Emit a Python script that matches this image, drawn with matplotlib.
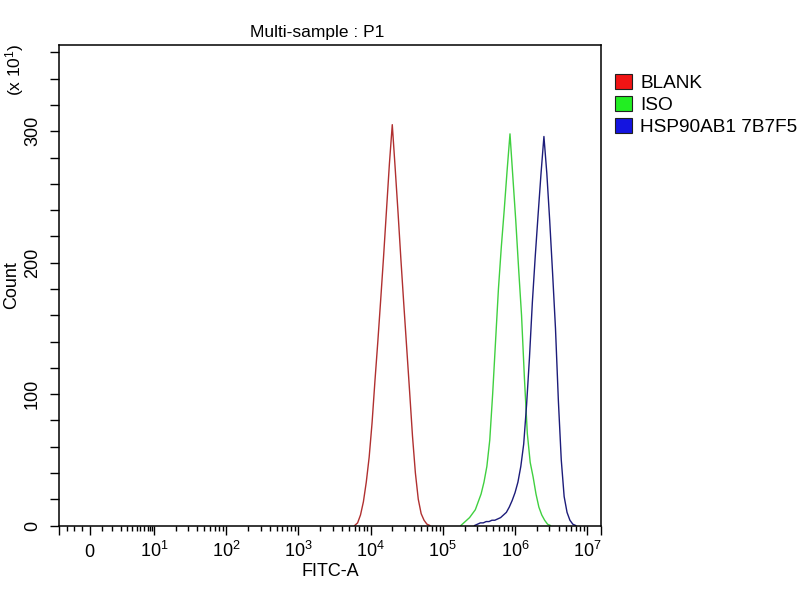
import matplotlib
matplotlib.use("Agg")
import matplotlib.pyplot as plt
from matplotlib.patches import Patch
import numpy as np

plt.rcParams['font.family'] = ['Liberation Sans', 'DejaVu Sans']
plt.rcParams['mathtext.fontset'] = 'custom'
plt.rcParams['mathtext.rm'] = 'Liberation Sans'
plt.rcParams['mathtext.it'] = 'Liberation Sans:italic'

# ---- data (bin centres as log10(FITC-A), counts in units of x10^1) ----
blank_log = [3.78, 3.82, 3.86, 3.90, 3.94, 3.98, 4.02, 4.06, 4.10, 4.14, 4.18, 4.22, 4.26,
             4.30, 4.34, 4.38, 4.42, 4.46, 4.50, 4.54, 4.58, 4.62, 4.66, 4.70, 4.74, 4.78, 4.82]
blank_cnt = [0, 2, 8, 18, 33, 52, 78, 110, 140, 172, 205, 240, 275,
             305, 272, 238, 202, 168, 135, 102, 68, 40, 20, 9, 4, 1, 0]

iso_log = [5.25, 5.29, 5.33, 5.37, 5.41, 5.45, 5.49, 5.53, 5.57, 5.61, 5.65, 5.69, 5.73,
           5.77, 5.81, 5.85, 5.89, 5.93, 5.97, 6.01, 6.05, 6.09, 6.13, 6.17, 6.21, 6.25,
           6.29, 6.33, 6.37, 6.41, 6.45, 6.49]
iso_cnt = [0, 2, 4, 6, 9, 12, 18, 24, 33, 45, 65, 100, 140, 180, 212, 240, 270,
           298, 265, 232, 195, 160, 112, 70, 48, 37, 24, 14, 8, 4, 1, 0]

hsp_log = [5.44, 5.48, 5.52, 5.56, 5.60, 5.64, 5.68, 5.72, 5.76, 5.80, 5.84, 5.88, 5.92,
           5.96, 6.00, 6.04, 6.08, 6.12, 6.16, 6.20, 6.24, 6.28, 6.32, 6.36, 6.40, 6.44,
           6.48, 6.52, 6.56, 6.60, 6.64, 6.68, 6.72, 6.76, 6.80, 6.84]
hsp_cnt = [0, 1, 2, 2, 3, 3, 4, 4, 5, 6, 8, 10, 14, 19, 25, 33, 45, 62, 92, 128, 170,
           205, 237, 268, 296, 268, 232, 192, 150, 95, 50, 22, 10, 4, 1, 0]

series_names = ['BLANK', 'ISO', 'HSP90AB1 7B7F5']
line_colors = ['#b03030', '#40d040', '#1c1c7a']
legend_colors = ['#f01414', '#22ee22', '#1414e0']

x_major = [0, 1e1, 1e2, 1e3, 1e4, 1e5, 1e6, 1e7]
x_major_labels = ['0'] + [r'$\mathregular{10^{%d}}$' % k for k in range(1, 8)]
y_major = [0, 100, 200, 300]
y_minor = [20, 40, 60, 80, 120, 140, 160, 180, 220, 240, 260, 280, 320, 340, 360]
x_lim = (-4.84, 1.55e7)
y_lim = (0, 366)

# ---- figure ----
fig = plt.figure(figsize=(8, 6), dpi=100)
ax = fig.add_axes([58.7 / 800, 1 - 525.5 / 600, (601 - 58.7) / 800, (525.5 - 44.5) / 600])

for xs, ys, c in zip([blank_log, iso_log, hsp_log], [blank_cnt, iso_cnt, hsp_cnt], line_colors):
    ax.plot(np.power(10.0, xs), ys, color=c, lw=1.0)

ax.set_xscale('symlog', linthresh=10, linscale=0.8)
ax.set_xlim(*x_lim)
ax.set_ylim(*y_lim)

# x ticks
ax.set_xticks(x_major + [x_lim[0], x_lim[1]])
ax.set_xticklabels(x_major_labels + ['', ''])
minor_x = [-1.2, -2.4, -3.6] + [10 * f for f in [.19, .35, .48, .58, .66, .73, .79, .84, .90, .94, .97]]
for k in range(1, 7):
    minor_x += [m * 10 ** k for m in range(2, 10)]
ax.set_xticks(minor_x, minor=True)
ax.tick_params(axis='x', which='major', direction='out', length=6.5, width=1.0,
               pad=16, labelsize=13)
ax.tick_params(axis='x', which='minor', direction='out', length=3.8, width=1.0)
for lab in ax.get_xticklabels():
    lab.set_verticalalignment('baseline')

# y ticks
ax.set_yticks(y_major)
ax.set_yticklabels([str(v) for v in y_major], rotation=90, va='center')
ax.set_yticks(y_minor, minor=True)
ax.tick_params(axis='y', which='both', direction='out', length=6.5, width=1.0)
ax.tick_params(axis='y', which='major', pad=6.3, labelsize=13)

for sp in ax.spines.values():
    sp.set_linewidth(1.1)
    sp.set_color('black')

# texts
fig.text(317 / 800, 1 - 37.5 / 600, 'Multi-sample : P1', ha='center', va='baseline', fontsize=12.5)
fig.text(330 / 800, 1 - 572 / 600, 'FITC-A', ha='center', va='center', fontsize=13)
fig.text(12 / 800, 1 - 285 / 600, 'Count', ha='center', va='center', rotation=90, fontsize=13)
fig.text(15 / 800, 1 - 70 / 600, r'(x $\mathregular{10^{1}}$)', ha='center', va='center',
         rotation=90, fontsize=12.5)

# legend
handles = [Patch(facecolor=c, edgecolor='#202020', linewidth=0.8) for c in legend_colors]
ax.legend(handles, series_names, loc='upper left', bbox_to_anchor=(615 / 800, 1 - 73.5 / 600),
          bbox_transform=fig.transFigure, frameon=False, fontsize=13.7, borderpad=0,
          borderaxespad=0, handlelength=0.9, handleheight=0.9, handletextpad=0.42,
          labelspacing=0.19)

fig.savefig('out.png', dpi=100, facecolor='white')
